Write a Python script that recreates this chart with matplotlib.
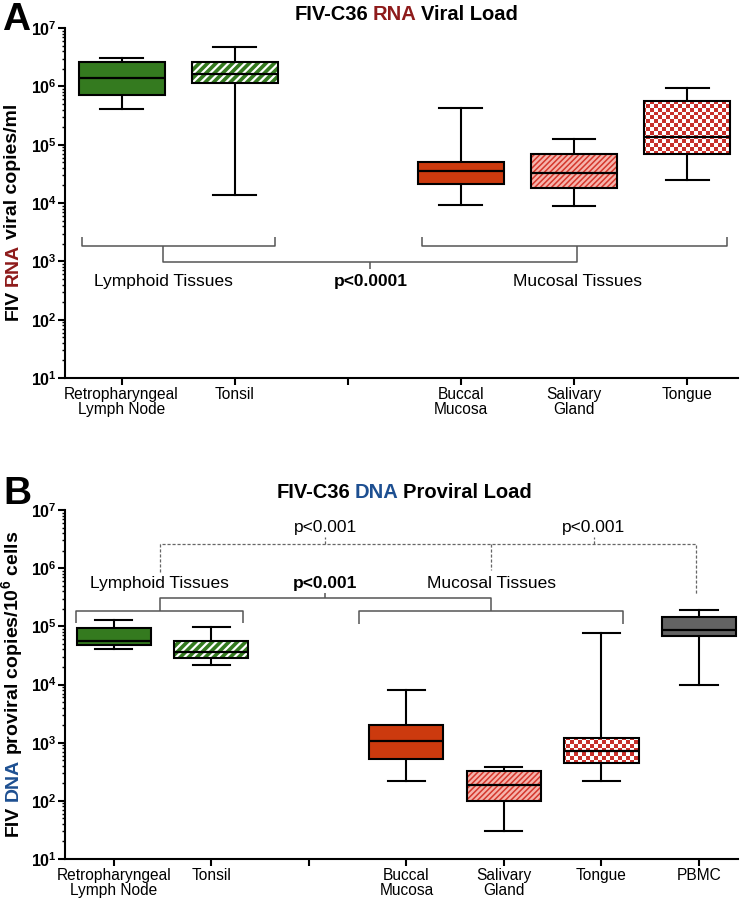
import numpy as np
import matplotlib
matplotlib.use("Agg")
import matplotlib.pyplot as plt
from matplotlib.patches import PathPatch
from matplotlib.image import AxesImage
from matplotlib.ticker import LogLocator, FixedLocator, FuncFormatter, NullFormatter

plt.rcParams['font.family'] = ['Liberation Sans', 'DejaVu Sans']
plt.rcParams['mathtext.fontset'] = 'custom'
plt.rcParams['mathtext.rm'] = 'Liberation Sans'
plt.rcParams['mathtext.bf'] = 'Liberation Sans:bold'

# ---- data ----
rna_ticks = ["Retropharyngeal\nLymph Node", "Tonsil", "", "Buccal\nMucosa", "Salivary\nGland", "Tongue"]
rna_pos = [0, 1, 3, 4, 5]
rna_whislo = [4.1e5, 1.35e4, 9.2e3, 8.9e3, 2.5e4]
rna_q1 = [7.2e5, 1.13e6, 2.1e4, 1.84e4, 7.0e4]
rna_med = [1.41e6, 1.63e6, 3.5e4, 3.3e4, 1.35e5]
rna_q3 = [2.65e6, 2.6e6, 5.0e4, 7.0e4, 5.7e5]
rna_whishi = [3.1e6, 4.8e6, 4.2e5, 1.25e5, 9.3e5]
rna_style = ["solid_green", "hatch_green", "solid_red", "hatch_red", "checker"]

dna_ticks = ["Retropharyngeal\nLymph Node", "Tonsil", "", "Buccal\nMucosa", "Salivary\nGland", "Tongue", "PBMC"]
dna_pos = [0, 1, 3, 4, 5, 6]
dna_whislo = [4.0e4, 2.2e4, 2.2e2, 30, 2.17e2, 1.0e4]
dna_q1 = [4.7e4, 2.9e4, 5.2e2, 1.0e2, 4.5e2, 6.8e4]
dna_med = [5.5e4, 3.6e4, 1.06e3, 1.88e2, 7.2e2, 8.7e4]
dna_q3 = [9.2e4, 5.5e4, 2.0e3, 3.3e2, 1.21e3, 1.46e5]
dna_whishi = [1.28e5, 9.7e4, 8.2e3, 3.85e2, 7.7e4, 1.88e5]
dna_style = ["solid_green", "hatch_green", "solid_red", "hatch_red", "checker", "gray"]

y_decades = [1, 2, 3, 4, 5, 6, 7]

GREEN = '#347a1f'
RED = '#cc3a0e'
CHECK_RED = '#c8302a'
DARKRED = '#8e1b1b'
BLUE = '#1d4f91'
BRACKET = '#555555'

# face, hatch colour, hatch, hatch linewidth
STYLES = {
    "solid_green": (GREEN, GREEN, None, 0),
    "hatch_green": (GREEN, 'white', '////', 1.6),
    "solid_red": (RED, RED, None, 0),
    "hatch_red": ('#f6b4ac', '#d4372c', '//////', 1.1),
    "checker": ('white', 'white', None, 0),
    "gray": ('#636363', '#636363', None, 0),
}

fig = plt.figure(figsize=(7.4, 9.08), dpi=100)
W, H = 740, 908
axA = fig.add_axes([65 / W, 1 - 378 / H, 673 / W, 350 / H])
axB = fig.add_axes([65 / W, 1 - 859 / H, 673 / W, 349 / H])


def checker_image(ax, clip):
    ny, nx = 88, 168
    yy, xx = np.indices((ny, nx))
    mask = (xx + yy) % 2 == 0
    rgb = np.ones((ny, nx, 3))
    rgb[mask] = matplotlib.colors.to_rgb(CHECK_RED)
    im = AxesImage(ax, interpolation='nearest', extent=(0, 1, 0, 1),
                   transform=ax.transAxes, zorder=2.5)
    im.set_data(rgb)
    ax.add_image(im)
    im.set_clip_path(clip)


def draw_boxes(ax, pos, lo, q1, med, q3, hi, styles):
    stats = [dict(whislo=a, q1=b, med=c, q3=d, whishi=e, fliers=[])
             for a, b, c, d, e in zip(lo, q1, med, q3, hi)]
    res = ax.bxp(stats, positions=pos, widths=0.76, capwidths=0.38,
                 patch_artist=True, showfliers=False, manage_ticks=False,
                 boxprops=dict(linewidth=0, zorder=2),
                 whiskerprops=dict(color='black', linewidth=1.5, zorder=1),
                 capprops=dict(color='black', linewidth=1.5, zorder=1),
                 medianprops=dict(color='black', linewidth=1.6, zorder=4))
    for box, st in zip(res['boxes'], styles):
        face, hcol, hatch, hlw = STYLES[st]
        box.set_facecolor(face)
        box.set_edgecolor(hcol)
        if hatch:
            box.set_hatch(hatch)
            if hasattr(box, 'set_hatch_linewidth'):
                box.set_hatch_linewidth(hlw)
        outline = PathPatch(box.get_path(), transform=box.get_transform(),
                            fill=False, edgecolor='black', linewidth=1.5, zorder=3.5)
        ax.add_patch(outline)
        if st == "checker":
            checker_image(ax, box)


def style_axis(ax, ticks, xmax):
    ax.set_yscale('log')
    ax.set_ylim(10, 1e7)
    ax.set_xlim(-0.5, xmax)
    for s in ['top', 'right']:
        ax.spines[s].set_visible(False)
    for s in ['left', 'bottom']:
        ax.spines[s].set_linewidth(1.5)
    ax.yaxis.set_major_locator(FixedLocator([10.0 ** d for d in y_decades]))
    ax.yaxis.set_minor_locator(LogLocator(base=10, subs=np.arange(2, 10), numticks=20))
    ax.yaxis.set_minor_formatter(NullFormatter())
    ax.yaxis.set_major_formatter(FuncFormatter(lambda v, p: r'$\mathbf{10^{%d}}$' % round(np.log10(v))))
    ax.set_xticks(range(len(ticks)))
    ax.set_xticklabels(ticks, fontsize=11.2, linespacing=1.0)
    ax.tick_params(axis='y', which='major', length=5, width=1.5, labelsize=11.5, pad=1)
    ax.tick_params(axis='y', which='minor', length=2.5, width=1)
    ax.tick_params(axis='x', length=5, width=1.5, pad=1.5)


def bline(ax, xs, ys, **kw):
    kw.setdefault('color', BRACKET)
    kw.setdefault('linewidth', 1.1)
    ax.plot(xs, ys, solid_capstyle='butt', **kw)


# ---- panel A ----
draw_boxes(axA, rna_pos, rna_whislo, rna_q1, rna_med, rna_q3, rna_whishi, rna_style)
style_axis(axA, rna_ticks, 5.45)

bline(axA, [-0.354, -0.354, 1.354, 1.354], [2.6e3, 1.83e3, 1.83e3, 2.6e3])
bline(axA, [2.66, 2.66, 5.35, 5.35], [2.6e3, 1.83e3, 1.83e3, 2.6e3])
bline(axA, [0.37, 0.37, 4.03, 4.03], [1.83e3, 9.8e2, 9.8e2, 1.83e3])
bline(axA, [2.2, 2.2], [9.8e2, 7.3e2])
axA.text(0.37, 4.5e2, "Lymphoid Tissues", ha='center', va='center', fontsize=12.5)
axA.text(2.2, 4.5e2, "p<0.0001", ha='center', va='center', fontsize=12.5, fontweight='bold')
axA.text(4.03, 4.5e2, "Mucosal Tissues", ha='center', va='center', fontsize=12.5)

# ---- panel B ----
draw_boxes(axB, dna_pos, dna_whislo, dna_q1, dna_med, dna_q3, dna_whishi, dna_style)
style_axis(axB, dna_ticks, 6.4)

bline(axB, [-0.39, -0.39, 1.32, 1.32], [1.12e5, 1.8e5, 1.8e5, 1.12e5])
bline(axB, [2.51, 2.51, 5.22, 5.22], [1.1e5, 1.8e5, 1.8e5, 1.1e5])
bline(axB, [0.47, 0.47, 3.87, 3.87], [1.8e5, 3.05e5, 3.05e5, 1.8e5])
bline(axB, [2.17, 2.17], [3.05e5, 3.8e5])
axB.text(0.47, 5.4e5, "Lymphoid Tissues", ha='center', va='center', fontsize=12.5)
axB.text(2.17, 5.4e5, "p<0.001", ha='center', va='center', fontsize=12.5, fontweight='bold')
axB.text(3.87, 5.4e5, "Mucosal Tissues", ha='center', va='center', fontsize=12.5)

dash = dict(linestyle=(0, (2.5, 1.5)), linewidth=0.9, color='#666666')
bline(axB, [0.47, 0.47, 5.97, 5.97], [8.7e5, 2.6e6, 2.6e6, 3.4e5], **dash)
bline(axB, [3.87, 3.87], [2.6e6, 9.4e5], **dash)
bline(axB, [2.17, 2.17], [2.6e6, 3.5e6], **dash)
bline(axB, [4.92, 4.92], [2.6e6, 3.5e6], **dash)
axB.text(2.17, 5.0e6, "p<0.001", ha='center', va='center', fontsize=12.5)
axB.text(4.92, 5.0e6, "p<0.001", ha='center', va='center', fontsize=12.5)


# ---- multicolour titles and labels ----
def color_text(x, y, pieces, rotation=0, **kw):
    r = fig.canvas.get_renderer()

    def width(s):
        t = fig.text(0, 0, s, **kw)
        w = t.get_window_extent(r).width
        t.remove()
        return w

    space = 0.8 * (width("a a") - width("aa"))
    widths = [width(s) for s, c in pieces]
    total = sum(widths) + space * (len(pieces) - 1)
    start = (x * W if rotation == 0 else y * H) - total / 2
    for (s, c), w in zip(pieces, widths):
        if rotation == 0:
            fig.text(start / W, y, s, color=c, ha='left', va='center', **kw)
        else:
            fig.text(x, start / H, s, color=c, rotation=90, ha='center', va='bottom', **kw)
        start += w + space


color_text(406 / W, 1 - 15 / H, [("FIV-C36", 'black'), ("RNA", DARKRED), ("Viral Load", 'black')],
           fontsize=14.5, fontweight='bold')
color_text(404 / W, 1 - 493 / H, [("FIV-C36", 'black'), ("DNA", BLUE), ("Proviral Load", 'black')],
           fontsize=14.5, fontweight='bold')
color_text(13 / W, 1 - 212 / H, [("FIV", 'black'), ("RNA", DARKRED), ("viral copies/ml", 'black')],
           rotation=90, fontsize=14, fontweight='bold')
color_text(13 / W, 1 - 683 / H, [("FIV", 'black'), ("DNA", BLUE), (r"proviral copies/10$^{\mathbf{6}}$ cells", 'black')],
           rotation=90, fontsize=14, fontweight='bold')

fig.text(16 / W, 1 - 20 / H, "A", fontsize=28, fontweight='bold', ha='center', va='center')
fig.text(17 / W, 1 - 494 / H, "B", fontsize=28, fontweight='bold', ha='center', va='center')

fig.savefig("out.png", dpi=100)
